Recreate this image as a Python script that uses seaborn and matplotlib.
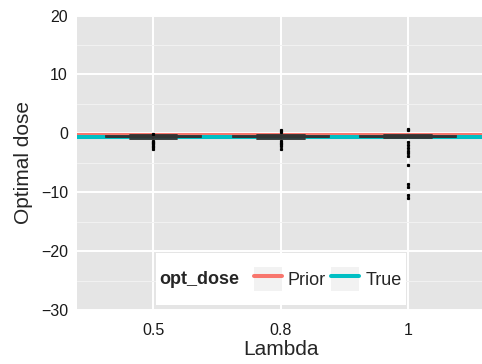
import pandas as pd
import seaborn as sns
import matplotlib.pyplot as plt
from matplotlib.lines import Line2D
from matplotlib.patches import Patch
from matplotlib.legend_handler import HandlerTuple
from matplotlib.offsetbox import HPacker, VPacker, DrawingArea
from matplotlib.ticker import MultipleLocator

# Data
lambdas = ["0.5", "0.8", "1"]
bulk = [-0.3, -0.32, -0.35, -0.37, -0.38, -0.4, -0.41, -0.42, -0.43, -0.45, -0.46, -0.47,
        -0.48, -0.49, -0.5, -0.5, -0.51, -0.52, -0.53, -0.54, -0.55, -0.55, -0.56, -0.57,
        -0.58, -0.58, -0.59, -0.6, -0.6, -0.61, -0.62, -0.63, -0.64, -0.65, -0.66, -0.67,
        -0.68, -0.69, -0.7, -0.71, -0.72, -0.73, -0.45, -0.5, -0.55, -0.6, -0.52, -0.57]
dose_05 = bulk + [-0.1, -0.9, -1.3, -1.5, -1.7, -1.9, -2.1, -2.3, -2.7]
dose_08 = bulk + [0.3, 0.5, -0.9, -1.3, -1.7, -1.9, -2.2, -2.7]
dose_1 = bulk + [0.5, 0.8, -1.5, -2.0, -2.5, -3.0, -3.4, -3.9, -5.3, -8.6, -9.1, -10.5, -11.0]
opt_dose_names = ["Prior", "True"]
opt_dose_values = [-0.25, -0.58]
opt_dose_colors = ["#F8766D", "#00BFC4"]

df = pd.DataFrame({
    "Lambda": [lambdas[0]] * len(dose_05) + [lambdas[1]] * len(dose_08) + [lambdas[2]] * len(dose_1),
    "dose": dose_05 + dose_08 + dose_1,
})

sns.set_style("white")
plt.rcParams["font.family"] = ["Liberation Sans", "DejaVu Sans"]

fig = plt.figure(figsize=(4.82, 3.64), dpi=100)
ax = fig.add_axes([77 / 482, (364 - 310) / 364, 407.7 / 482, 294.5 / 364])
ax.set_facecolor("#E5E5E5")

# reference lines for the optimal dose
for name, val, col in zip(opt_dose_names, opt_dose_values, opt_dose_colors):
    ax.axhline(val, color=col, lw=2.9, zorder=1.8)

sns.boxplot(data=df, x="Lambda", y="dose", order=lambdas, width=0.75,
            color="white", linecolor="#333333", linewidth=1.3, fliersize=1.3,
            flierprops=dict(marker="s", markerfacecolor="black", markeredgecolor="black"),
            ax=ax)

ax.set_xlim(-0.6, 2.6)
ax.set_ylim(-30, 20)
ax.yaxis.set_major_locator(MultipleLocator(10))
ax.yaxis.set_minor_locator(MultipleLocator(5))
ax.set_axisbelow(True)
ax.grid(which="major", color="white", lw=1.4)
ax.grid(which="minor", axis="y", color="#F2F2F2", lw=0.7)
for s in ax.spines.values():
    s.set_visible(False)
ax.tick_params(which="major", length=3.5, width=0.9, color="#7F7F7F",
               labelsize=11.5, labelcolor="#1a1a1a", pad=3)
ax.tick_params(axis="x", pad=6)
ax.tick_params(which="minor", length=0)
ax.set_xlabel("Lambda", fontsize=15, labelpad=1)
ax.set_ylabel("Optimal dose", fontsize=15, labelpad=6)

handles = [(Patch(facecolor="#F2F2F2", edgecolor="none"), Line2D([], [], color=c, lw=2.9))
           for c in opt_dose_colors]
leg = ax.legend(handles, opt_dose_names, handler_map={tuple: HandlerTuple(ndivide=1)},
                title="opt_dose", ncol=2, loc="lower center", bbox_to_anchor=(0.5, 0.017),
                borderaxespad=0, fontsize=13, title_fontproperties={"weight": "bold", "size": 13},
                frameon=True, fancybox=False, framealpha=1, edgecolor="white",
                handlelength=1.55, handleheight=1.67, handletextpad=0.35,
                columnspacing=0.3, borderpad=0.47)
leg.get_frame().set_linewidth(0)
# put the legend title to the left of the keys, like ggplot's horizontal legend
row = HPacker(pad=3, sep=10, align="center",
              children=[leg._legend_title_box, leg._legend_handle_box])
box = VPacker(pad=0, sep=0, align="center",
              children=[DrawingArea(1, 7), row, DrawingArea(1, 7)])
box.set_figure(fig)
box.axes = ax
box.set_offset(leg._findoffset)
leg._legend_box = box

fig.savefig("out.png", dpi=100)
